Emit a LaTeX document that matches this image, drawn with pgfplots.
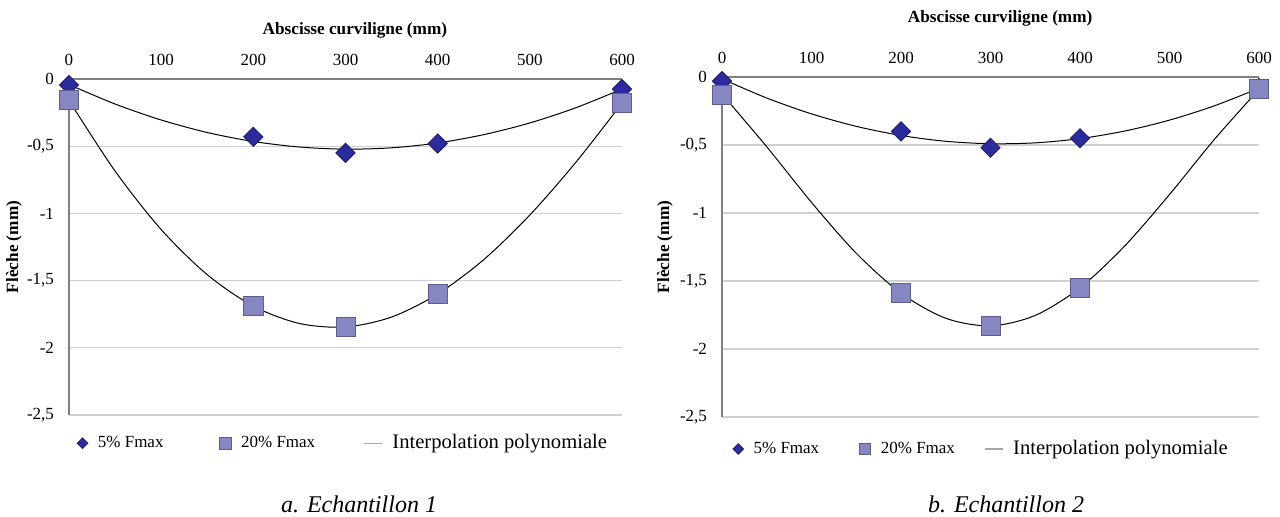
\documentclass[border=0pt]{standalone}
\usepackage{fontspec}
\setmainfont{Liberation Serif}
\usepackage{pgfplots}
\pgfplotsset{compat=1.18}
\definecolor{dmd}{HTML}{2B2B9E}
\definecolor{dmdE}{HTML}{1C1C6E}
\definecolor{sq}{HTML}{8686C2}
\definecolor{sqE}{HTML}{5C5C8E}
\definecolor{gridc}{HTML}{D0D0D0}
\definecolor{axc}{HTML}{808080}
\newcommand{\fs}[1]{\fontsize{#1}{#1}\selectfont}
\pgfplotsset{
 mystyle/.style={
  scale only axis,
  axis x line=top, axis y line=left,
  axis line style={axc, line width=0.6pt, -},
  xmin=0, xmax=600, ymin=-2.5, ymax=0,
  xtick={0,100,...,600},
  xticklabels={0,100,200,300,400,500,600},
  ytick={0,-0.5,-1,-1.5,-2,-2.5},
  yticklabels={0,{-0,5},-1,{-1,5},-2,{-2,5}},
  major tick length=0pt,
  ymajorgrids, grid style={gridc, line width=0.6pt},
  ticklabel style={font=\fs{8.5}},
  xticklabel style={yshift=3pt},
  yticklabel style={xshift=-4pt},
  clip=false,
  title={Abscisse curviligne (mm)},
  ylabel={Flèche (mm)},
  ylabel style={font=\bfseries\fs{8.6}, anchor=center},
  title style={font=\bfseries\fs{8.6}, anchor=center, yshift=-6pt},
  legend columns=3,
  legend style={draw=none, fill=none, inner sep=0pt, font=\fs{8.5}, anchor=west,
    /tikz/every odd column/.append style={column sep=3pt}},
 },
 dia/.style={only marks, mark=square*, mark size=3.4pt,
   mark options={rotate=45, fill=dmd, draw=dmdE, line width=0.4pt},
   legend image code/.code={\draw[##1, mark size=1.9pt] plot coordinates {(0pt,0pt)};}},
 sqr/.style={only marks, mark=square*, mark size=4.8pt,
   mark options={fill=sq, draw=sqE, line width=0.4pt},
   legend image code/.code={\draw[##1, mark size=2.9pt] plot coordinates {(0pt,0pt)};}},
 fit/.style={black, line width=0.5pt, smooth, no marks, forget plot},
}
\begin{document}
\begin{tikzpicture}
\path[use as bounding box] (0,0) rectangle (640pt,258pt);
% ---------------- left chart
\begin{axis}[mystyle, at={(34.5pt,50.5pt)}, anchor=south west,
  width=276.5pt, height=168pt,
  title style={at={(axis description cs:0.517,1.146)}},
  ylabel style={at={(axis description cs:-0.0995,0.5)}},
  legend style={at={(axis description cs:0.014,-0.084)},
    /tikz/column 2/.style={column sep=26pt},
    /tikz/column 4/.style={column sep=22pt}}]
\addplot[dia] coordinates {(0,-0.045) (200,-0.43) (300,-0.55) (400,-0.48) (600,-0.075)};
\addlegendentry{5\% Fmax}
\addplot[sqr] coordinates {(0,-0.155) (200,-1.69) (300,-1.845) (400,-1.60) (600,-0.175)};
\addlegendentry{20\% Fmax}
\addlegendimage{legend image code/.code={\draw[gray!70, line width=0.6pt] (0pt,0pt) -- (9pt,0pt);}}
\addlegendentry{\fs{10.3}Interpolation polynomiale}
\addplot[fit] coordinates {(0,-0.0416) (50,-0.186) (100,-0.305) (150,-0.398) (200,-0.465) (250,-0.506) (300,-0.522) (350,-0.512) (400,-0.476) (450,-0.414) (500,-0.327) (550,-0.2136) (600,-0.0746)};
\addplot[fit] coordinates {(0,-0.16) (50,-0.685) (100,-1.120) (150,-1.456) (200,-1.690) (250,-1.819) (300,-1.845) (350,-1.771) (400,-1.600) (450,-1.344) (500,-1.012) (550,-0.619) (600,-0.18)};
\end{axis}
% ---------------- right chart
\begin{axis}[mystyle, at={(361pt,49.5pt)}, anchor=south west,
  width=268.5pt, height=170pt,
  title style={at={(axis description cs:0.518,1.173)}},
  ylabel style={at={(axis description cs:-0.106,0.5)}},
  legend style={at={(axis description cs:0.0195,-0.094)},
    /tikz/column 2/.style={column sep=18pt},
    /tikz/column 4/.style={column sep=12.5pt}}]
\addplot[dia] coordinates {(0,-0.03) (200,-0.40) (300,-0.52) (400,-0.45) (600,-0.08)};
\addlegendentry{5\% Fmax}
\addplot[sqr] coordinates {(0,-0.13) (200,-1.59) (300,-1.83) (400,-1.55) (600,-0.09)};
\addlegendentry{20\% Fmax}
\addlegendimage{legend image code/.code={\draw[gray!70, line width=0.6pt] (0pt,0pt) -- (9pt,0pt);}}
\addlegendentry{\fs{10.3}Interpolation polynomiale}
\addplot[fit] coordinates {(0,-0.0137) (50,-0.1546) (100,-0.2710) (150,-0.3628) (200,-0.4300) (250,-0.4727) (300,-0.4907) (350,-0.4842) (400,-0.4530) (450,-0.3973) (500,-0.3170) (550,-0.2121) (600,-0.0827)};
\addplot[fit] coordinates {(0,-0.125) (50,-0.513) (100,-0.922) (150,-1.296) (200,-1.590) (250,-1.774) (300,-1.830) (350,-1.753) (400,-1.550) (450,-1.242) (500,-0.864) (550,-0.460) (600,-0.09)};
\end{axis}
\node[font=\itshape\fs{12}] at (179.5pt,5.8pt) {a. Echantillon 1};
\node[font=\itshape\fs{12}] at (503pt,5.8pt) {b. Echantillon 2};
\end{tikzpicture}
\end{document}
